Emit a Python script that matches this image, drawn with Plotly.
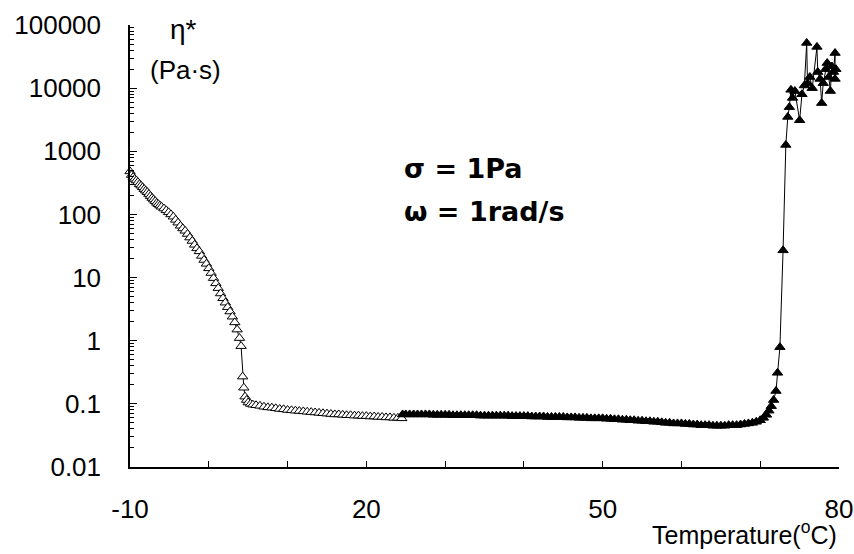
import plotly.graph_objects as go

# Open-triangle series (low temperature branch)
open_T = [-10.0, -9.8, -9.6, -9.4, -9.2, -9.0, -8.8, -8.6, -8.4, -8.2, -8.0, -7.8, -7.6, -7.4, -7.2,
          -7.0, -6.8, -6.6, -6.4, -6.2, -6.0, -5.7, -5.4, -5.1, -4.8, -4.5, -4.2, -3.9, -3.6, -3.3,
          -3.0, -2.7, -2.4, -2.1, -1.8, -1.5, -1.2, -0.9, -0.6, -0.3, 0.0, 0.3, 0.6, 0.9, 1.2,
          1.5, 1.8, 2.1, 2.4, 2.7, 3.0, 3.3, 3.6, 3.9, 4.1, 4.3, 4.45, 4.6, 4.8, 5.0,
          5.3, 5.6, 6.0, 6.5, 7.0, 7.5, 8.0, 8.5, 9.0, 9.5, 10.0, 10.5, 11.0, 11.5, 12.0,
          12.5, 13.0, 13.5, 14.0, 14.5, 15.0, 15.5, 16.0, 16.5, 17.0, 17.5, 18.0, 18.5, 19.0, 19.5,
          20.0, 20.5, 21.0, 21.5, 22.0, 22.5, 23.0, 23.5, 24.0, 24.5]
open_eta = [480, 420, 390, 365, 345, 325, 300, 285, 268, 252, 238, 225, 210, 195, 182,
            172, 162, 152, 145, 138, 132, 124, 116, 108, 100, 92, 82, 74, 66, 60,
            55, 49, 43, 38, 33, 29, 26, 22, 19, 16.5, 14, 11.8, 9.8, 8.1, 6.8,
            5.6, 4.7, 4.0, 3.4, 2.9, 2.4, 1.95, 1.5, 1.1, 0.82, 0.27, 0.18, 0.13, 0.115, 0.105,
            0.1, 0.097, 0.095, 0.093, 0.09, 0.088, 0.087, 0.085, 0.083, 0.082, 0.08, 0.079, 0.078, 0.077, 0.076,
            0.075, 0.074, 0.073, 0.072, 0.071, 0.07, 0.069, 0.068, 0.068, 0.067, 0.066, 0.066, 0.065, 0.065, 0.064,
            0.064, 0.063, 0.063, 0.062, 0.062, 0.061, 0.061, 0.06, 0.06, 0.059]

# Filled-triangle series (high temperature branch)
fill_T = [24.6, 25.0, 25.5, 26.0, 26.5, 27.0, 27.5, 28.0, 28.5, 29.0, 29.5, 30.0, 30.5, 31.0, 31.5,
          32.0, 32.5, 33.0, 33.5, 34.0, 34.5, 35.0, 35.5, 36.0, 36.5, 37.0, 37.5, 38.0, 38.5, 39.0,
          39.5, 40.0, 40.5, 41.0, 41.5, 42.0, 42.5, 43.0, 43.5, 44.0, 44.5, 45.0, 45.5, 46.0, 46.5,
          47.0, 47.5, 48.0, 48.5, 49.0, 49.5, 50.0, 50.5, 51.0, 51.5, 52.0, 52.5, 53.0, 53.5, 54.0,
          54.5, 55.0, 55.5, 56.0, 56.5, 57.0, 57.5, 58.0, 58.5, 59.0, 59.5, 60.0, 60.5, 61.0, 61.5,
          62.0, 62.5, 63.0, 63.5, 64.0, 64.5, 65.0, 65.5, 66.0, 66.5, 67.0, 67.5, 68.0, 68.5, 69.0,
          69.5, 70.0, 70.4, 70.8, 71.1, 71.4, 71.7, 72.0, 72.2, 72.5, 72.9, 73.25, 73.5, 73.7, 73.9,
          74.1, 74.4, 75.0, 75.3, 75.6, 75.9, 76.0, 76.3, 76.6, 77.2, 77.3, 77.6, 77.8, 78.0, 78.3,
          78.5, 78.7, 78.9, 79.1, 79.3, 79.5, 79.5, 79.6]
fill_eta = [0.068, 0.068, 0.068, 0.068, 0.068, 0.068, 0.068, 0.068, 0.067, 0.067, 0.067, 0.067, 0.067, 0.066, 0.066,
            0.066, 0.066, 0.066, 0.066, 0.066, 0.065, 0.065, 0.065, 0.065, 0.065, 0.065, 0.065, 0.065, 0.064, 0.064,
            0.064, 0.064, 0.064, 0.063, 0.063, 0.063, 0.063, 0.062, 0.062, 0.062, 0.062, 0.062, 0.061, 0.061, 0.061,
            0.060, 0.060, 0.060, 0.059, 0.059, 0.059, 0.059, 0.058, 0.058, 0.057, 0.057, 0.056, 0.056, 0.055, 0.055,
            0.054, 0.054, 0.053, 0.053, 0.052, 0.052, 0.051, 0.050, 0.050, 0.049, 0.049, 0.049, 0.048, 0.048, 0.047,
            0.047, 0.046, 0.046, 0.046, 0.045, 0.045, 0.045, 0.045, 0.046, 0.046, 0.046, 0.047, 0.048, 0.049, 0.050,
            0.052, 0.055, 0.060, 0.067, 0.078, 0.092, 0.115, 0.16, 0.31, 0.79, 27, 1260, 3500, 5000, 9400,
            7000, 9000, 3100, 8000, 11000, 52000, 12000, 15000, 10000, 45000, 18000, 14000, 5800, 12000, 20000,
            25000, 15000, 9000, 22000, 18000, 36000, 14000, 20000]

x_tickvals = [-10, 20, 50, 80]
x_ticktext = ["-10", "20", "50", "80"]
y_tickvals = [0.01, 0.1, 1, 10, 100, 1000, 10000, 100000]
y_ticktext = ["0.01", "0.1", "1", "10", "100", "1000", "10000", "100000"]

fig = go.Figure()
fig.add_trace(go.Scatter(
    x=open_T, y=open_eta, mode="lines+markers",
    line=dict(color="black", width=1),
    marker=dict(symbol="triangle-up", size=9, color="white", line=dict(color="black", width=1)),
    showlegend=False, cliponaxis=False))
fig.add_trace(go.Scatter(
    x=fill_T, y=fill_eta, mode="lines+markers",
    line=dict(color="black", width=1),
    marker=dict(symbol="triangle-up", size=9, color="black", line=dict(color="black", width=1)),
    showlegend=False, cliponaxis=False))

font_main = "Liberation Sans, Arial, sans-serif"

fig.update_layout(
    width=854, height=554,
    margin=dict(l=130, r=15, t=25, b=87, autoexpand=False),
    paper_bgcolor="white", plot_bgcolor="white",
    font=dict(family=font_main, size=26, color="black"),
    xaxis=dict(
        range=[-10, 80], showgrid=False, zeroline=False, automargin=False,
        showline=True, linecolor="black", linewidth=1.5,
        ticks="inside", ticklen=6, tickwidth=1, tickcolor="black",
        tickvals=x_tickvals, ticktext=x_ticktext,
        ticklabelstandoff=18,
        tickfont=dict(family=font_main, size=26, color="black"),
        minor=dict(ticks="inside", ticklen=6, tickwidth=1, tickcolor="black",
                   tick0=-10, dtick=10, showgrid=False),
    ),
    yaxis=dict(
        type="log", range=[-2, 5], showgrid=False, zeroline=False, automargin=False,
        showline=True, linecolor="black", linewidth=1.5,
        ticks="inside", ticklen=7, tickwidth=1, tickcolor="black",
        tickvals=y_tickvals, ticktext=y_ticktext,
        ticklabelstandoff=22,
        tickfont=dict(family=font_main, size=26, color="black"),
        minor=dict(ticks="inside", ticklen=4, tickwidth=1, tickcolor="black",
                   dtick="D1", showgrid=False),
    ),
)

fig.add_annotation(text="η*", xref="paper", yref="paper", x=0.075, y=0.99,
                   xanchor="center", yanchor="middle", showarrow=False,
                   font=dict(family=font_main, size=28, color="black"))
fig.add_annotation(text="(Pa·s)", xref="paper", yref="paper", x=0.078, y=0.898,
                   xanchor="center", yanchor="middle", showarrow=False,
                   font=dict(family=font_main, size=26, color="black"))
fig.add_annotation(text="<b>σ = 1Pa</b>", xref="paper", yref="paper", x=0.384, y=0.676,
                   xanchor="left", yanchor="middle", showarrow=False,
                   font=dict(family="DejaVu Sans", size=27, color="black"))
fig.add_annotation(text="<b>ω = 1rad/s</b>", xref="paper", yref="paper", x=0.384, y=0.577,
                   xanchor="left", yanchor="middle", showarrow=False,
                   font=dict(family="DejaVu Sans", size=27, color="black"))
fig.add_annotation(text="Temperature(<sup>o</sup>C)", xref="paper", yref="paper", x=1.0, y=-0.19,
                   xanchor="right", yanchor="bottom", showarrow=False,
                   font=dict(family=font_main, size=25, color="black"))

fig.write_html("out.html")
